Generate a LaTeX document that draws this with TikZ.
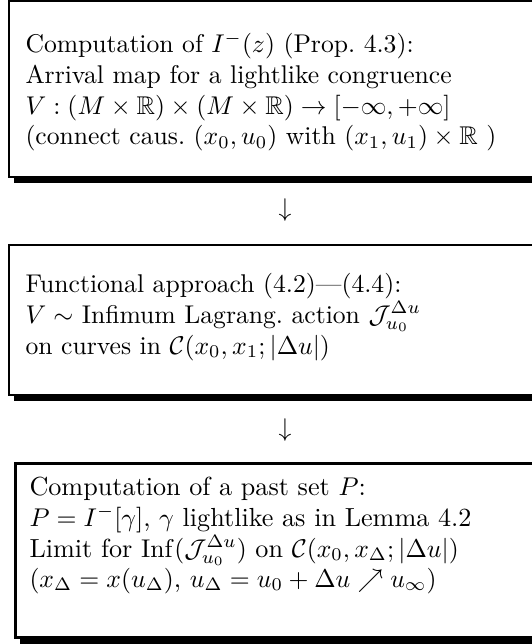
\documentclass[tikz,border=0pt]{standalone}
\usepackage{amsmath,amssymb}
\usetikzlibrary{shadows}
\begin{document}
\begin{tikzpicture}[x=0.39pt,y=-0.39pt,
  boxA/.style={draw=black, fill=white, line width=0.78pt, anchor=north west,
    minimum width=600*0.39pt, inner sep=0pt,
    drop shadow={shadow xshift=5*0.39pt, shadow yshift=-6.5*0.39pt, fill=black, opacity=1}},
  boxB/.style={draw=black, fill=white, line width=1.17pt, anchor=north west,
    minimum width=600*0.39pt, inner sep=0pt,
    drop shadow={shadow xshift=4*0.39pt, shadow yshift=-7*0.39pt, fill=black, opacity=1}},
  txt/.style={anchor=base west, inner sep=0pt, font=\fontsize{10}{12}\selectfont},
  txtB/.style={anchor=base west, inner sep=0pt, font=\fontsize{10.2}{12.2}\selectfont},
  arr/.style={anchor=base, inner sep=0pt, font=\fontsize{10}{12}\selectfont}]
\clip (0,0) rectangle (532,644);
\useasboundingbox (0,0) rectangle (532,644);
% boxes
\node[boxA, minimum height=175*0.39pt] (b1) at (7.5,0.5) {};
\node[boxA, minimum height=150*0.39pt] (b2) at (7.5,243.5) {};
\node[boxB, minimum height=174*0.39pt] (b3) at (14,461.5) {};
% box 1 text
\node[txt] (b1l1) at (25,53) {Computation of $I^-(z)$ (Prop.\ 4.3):};
\node[txt] (b1l2) at (25,84) {Arrival map for a lightlike congruence};
\node[txt] (b1l3) at (25,114.5) {$V:(M\times\mathbb{R})\times(M\times\mathbb{R})\to[-\infty,+\infty]$};
\node[txt] (b1l4) at (25,145) {(connect caus.\ $(x_0,u_0)$ with $(x_1,u_1)\times\mathbb{R}$ )};
% arrow 1
\node[arr] (a1) at (285,216) {$\downarrow$};
% box 2 text
\node[txt] (b2l1) at (25,292) {Functional approach (4.2)---(4.4):};
\node[txt] (b2l2) at (25,323) {$V\sim$ Infimum Lagrang.\ action $\mathcal{J}_{u_0}^{\Delta u}$};
\node[txt] (b2l3) at (25,354) {on curves in $\mathcal{C}(x_0,x_1;|\Delta u|)$};
% arrow 2
\node[arr] (a2) at (285,436) {$\downarrow$};
% box 3 text
\node[txtB] (b3l1) at (29,495) {Computation of a past set $P$:};
\node[txtB] (b3l2) at (29,526) {$P=I^-[\gamma]$, $\gamma$ lightlike as in Lemma 4.2};
\node[txtB] (b3l3) at (29,557) {Limit for $\mathrm{Inf}(\mathcal{J}_{u_0}^{\Delta u})$ on $\mathcal{C}(x_0,x_\Delta;|\Delta u|)$};
\node[txtB] (b3l4) at (29,587) {$(x_\Delta=x(u_\Delta)$, $u_\Delta=u_0+\Delta u\nearrow u_\infty)$};
\end{tikzpicture}
\end{document}
